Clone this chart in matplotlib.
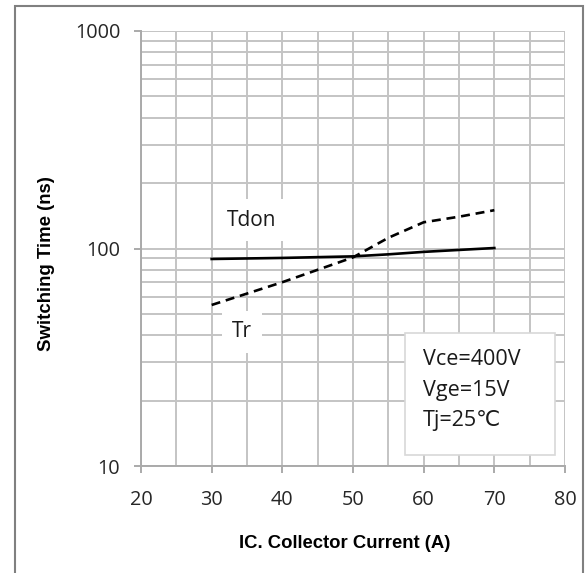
import matplotlib.pyplot as plt
from matplotlib.patches import Rectangle

# collector current (A) and switching times (ns)
ic = [30, 40, 50, 55, 60, 65, 70]
tdon = [89.5, 90.5, 92, 94, 96.5, 98.5, 100.5]
tr = [55, 70, 91, 112, 132, 140, 150]

xticks = [20, 30, 40, 50, 60, 70, 80]
yticks = [10, 100, 1000]
cond_lines = ["Vce=400V", "Vge=15V", "Tj=25\u2103"]

fams = ["Open Sans", "DejaVu Sans"]

fig = plt.figure(figsize=(5.88, 5.73), dpi=100)
ax = fig.add_axes([141 / 588, 107 / 573, 424 / 588, 435 / 573])

# outer frame of the figure
fig.patches.append(Rectangle((15 / 588, -0.01), 568 / 588, 1.0 - 6 / 573 + 0.01,
                             transform=fig.transFigure, fill=False,
                             edgecolor="#808080", linewidth=1.5))

ax.plot(ic, tdon, color="black", linewidth=1.9)
ax.plot(ic, tr, color="black", linewidth=1.9, linestyle=(0, (3.4, 2.2)))

ax.set_yscale("log")
ax.set_xlim(20, 80)
ax.set_ylim(10, 1000)
ax.set_xticks(xticks)
ax.set_yticks(yticks)
ax.set_xticks(range(25, 80, 10), minor=True)
ax.set_yticklabels([str(v) for v in yticks])
ax.yaxis.set_minor_formatter(plt.NullFormatter())

grid_c = "#c4c4c4"
ax.grid(True, which="both", color=grid_c, linewidth=1.4)
ax.set_axisbelow(True)
for side in ["top", "right"]:
    ax.spines[side].set_visible(False)
for side in ["left", "bottom"]:
    ax.spines[side].set_color("#aaaaaa")
    ax.spines[side].set_linewidth(1.4)

ax.tick_params(which="major", length=5, width=1.4, color="#aaaaaa",
               labelcolor="#262626")
ax.tick_params(which="minor", length=0)
ax.tick_params(axis="y", pad=10)
ax.tick_params(axis="x", pad=12)
for lab in ax.get_xticklabels() + ax.get_yticklabels():
    lab.set_fontfamily(fams)
    lab.set_fontsize(14.3)

ax.set_xlabel("IC. Collector Current (A)", fontsize=13.3, fontweight="bold",
              family="Liberation Sans", va="center")
ax.set_ylabel("Switching Time (ns)", fontsize=13.4, fontweight="bold",
              family="Liberation Sans", va="center")
ax.xaxis.set_label_coords(0.481, -0.179)
ax.yaxis.set_label_coords(-0.222, 0.4655)

ax.text(35.7, 135, "Tdon", fontsize=15, family=fams, color="#1a1a1a",
        ha="center", va="center",
        bbox=dict(facecolor="white", edgecolor="none", boxstyle="square,pad=0.5"))
ax.text(34.3, 41.4, "Tr", fontsize=15, family=fams, color="#1a1a1a",
        ha="center", va="center",
        bbox=dict(facecolor="white", edgecolor="none", boxstyle="square,pad=0.5"))

ax.add_patch(Rectangle((0.623, 0.0253), 0.353, 0.2804, transform=ax.transAxes,
                       facecolor="white", edgecolor="#d8d8d8", linewidth=1.2,
                       zorder=3))
for txt, yf in zip(cond_lines, [0.2437, 0.1747, 0.1057]):
    ax.text(0.665, yf, txt, transform=ax.transAxes, fontsize=15.5,
            family=fams, color="#1a1a1a", ha="left", va="center", zorder=4)

fig.savefig("out.png", dpi=100)
